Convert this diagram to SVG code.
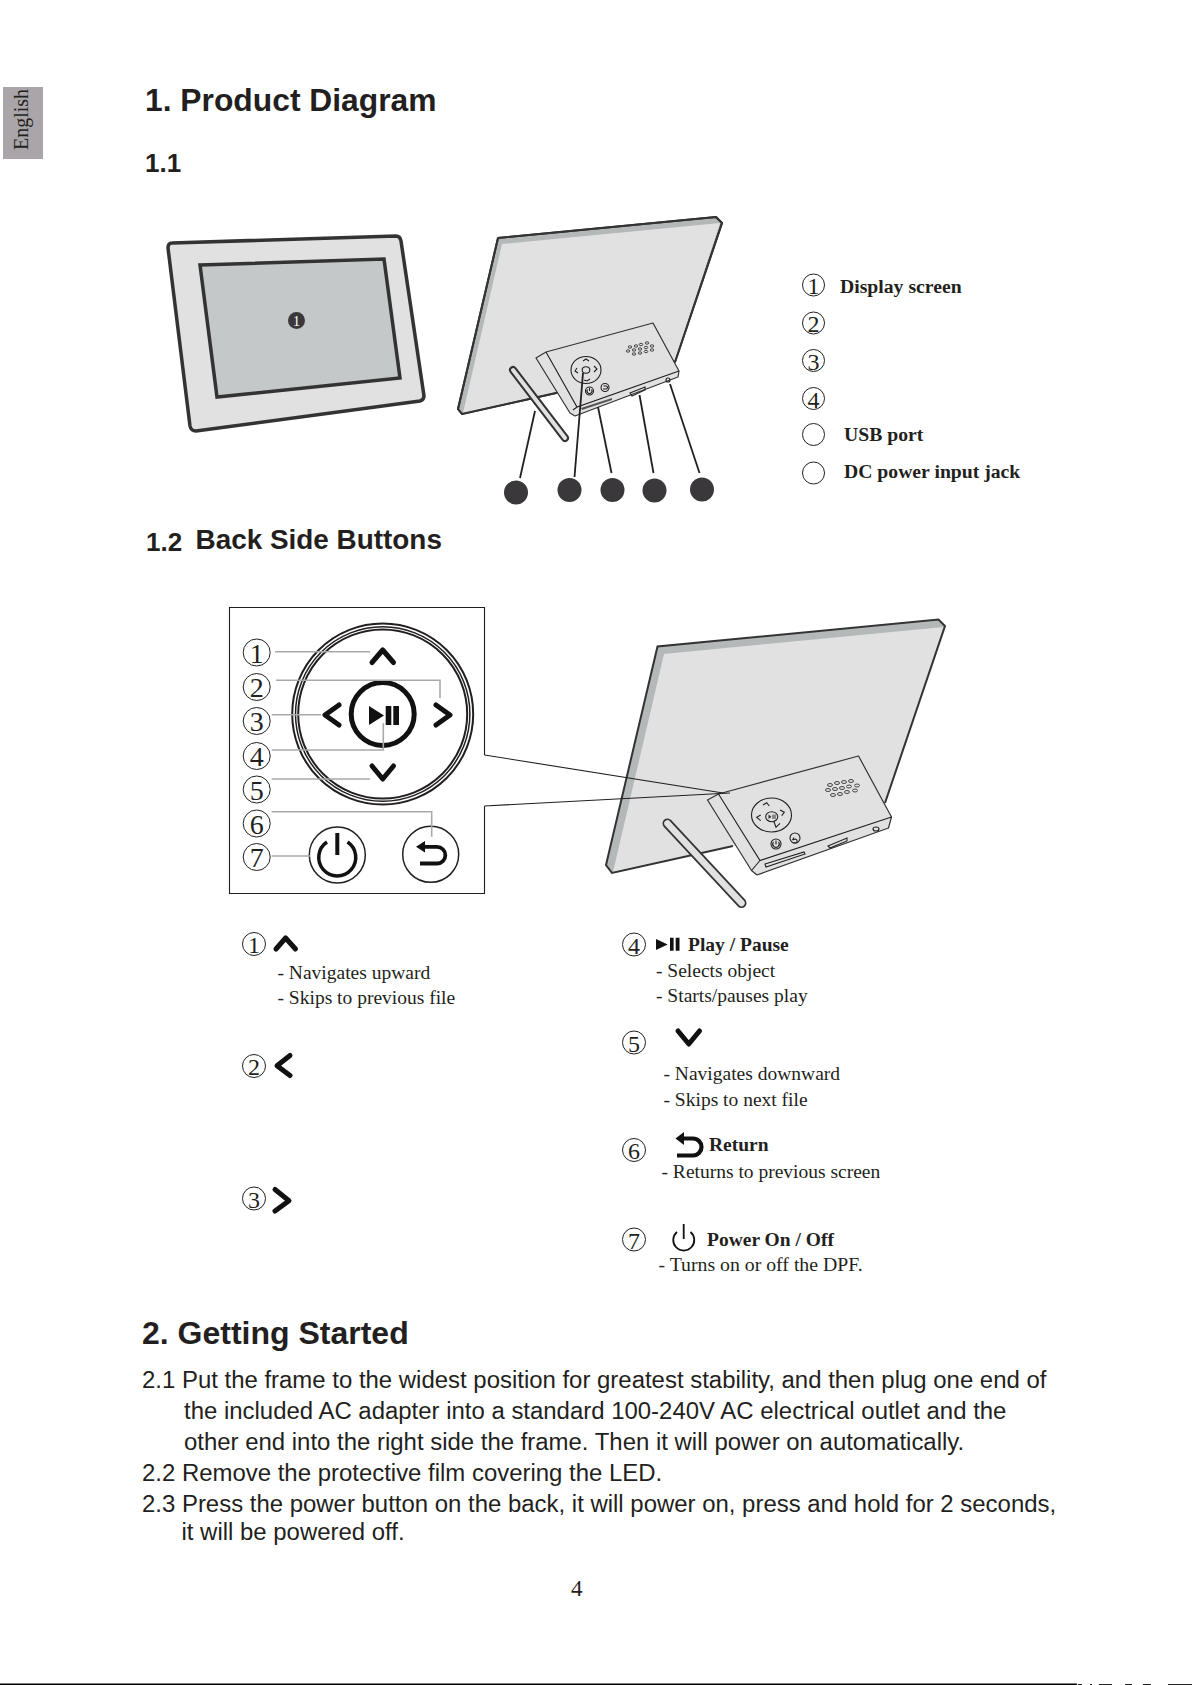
<svg xmlns="http://www.w3.org/2000/svg" width="1192" height="1685" viewBox="0 0 1192 1685">
<style>
text{fill:#231f20}
.h{font-family:"Liberation Sans",Arial,sans-serif;font-weight:700}
.b{font-family:"Liberation Sans",Arial,sans-serif;font-size:23.95px}
.s{font-family:"Liberation Serif","Times New Roman",serif;font-size:19.5px}
.sb{font-family:"Liberation Serif","Times New Roman",serif;font-size:19.5px;font-weight:700}
.n{font-family:"Liberation Serif","Times New Roman",serif;font-size:24px;text-anchor:middle}
.c{fill:none;stroke:#231f20;stroke-width:1}
.g{fill:none;stroke:#a7a9ac;stroke-width:1.6}
.l{fill:none;stroke:#231f20;stroke-width:1.8}
.t{fill:none;stroke:#231f20;stroke-width:1.1}
.ch{fill:none;stroke:#111;stroke-width:5;stroke-linejoin:round;stroke-linecap:round}
.d{fill:#3a383b}
.m{fill:#e1e1e1;stroke:#333;stroke-width:1.2;stroke-linejoin:round}
</style>
<rect width="1192" height="1685" fill="#fff"/>
<g id="tab"><rect x="3" y="87" width="40" height="72" fill="#a9a5a8"/><text transform="translate(28 150) rotate(-90)" class="s" style="font-size:20px">English</text></g>
<g id="headings">
<text x="145" y="111" class="h" font-size="31.800">1. Product Diagram</text>
<text x="145" y="172" class="h" font-size="26">1.1</text>
<text x="146" y="551" class="h" font-size="26">1.2</text>
<text x="195.500" y="549" class="h" font-size="27.900">Back Side Buttons</text>
<text x="142" y="1344" class="h" font-size="32">2. Getting Started</text>
</g>
<g id="front-frame">
<path d="M172 243 L396 236 Q400 236 401 241 L424 396 Q424 400 420 401 L196 431 Q191 431 190 426 L168 248 Q168 243 172 243Z" fill="#e1e1e1" stroke="#333" stroke-width="3.500"/>
<path d="M200 265 L384 259 L400 378 L217 397Z" fill="#c5c8c8" stroke="#333" stroke-width="3.500"/>
<circle cx="296.500" cy="320.500" r="8.500" class="d"/>
<text x="296.500" y="326" text-anchor="middle" font-family="Liberation Serif" font-size="14" style="fill:#fff">1</text>
</g>
<g id="back-frame-small">
<path d="M498 238 L716 217 L722 223 L675 362 L556 393 L462 414 L458 409Z" fill="#b5b8b9" stroke="#333" stroke-width="2" stroke-linejoin="round"/>
<path d="M502 244 L720 223 L675 360 L556 392 L463 413Z" fill="#e1e1e1"/>
<path d="M498 238 L716 217 L722 223 L675 362 M556 393 L462 414 L458 409 L498 238" fill="none" stroke="#333" stroke-width="2"/>
<line x1="513" y1="370" x2="565" y2="438" stroke="#333" stroke-width="8" stroke-linecap="round"/>
<line x1="513" y1="370" x2="565" y2="438" stroke="#e1e1e1" stroke-width="4" stroke-linecap="round"/>
<path class="m" d="M536 358 L546 352 L653 323 L679 371 L678 377 L575 416 L570 413Z"/>
<path class="t" d="M546 352 L577 407 L679 371 M573 410 L577 407"/>
<ellipse cx="586" cy="370" rx="15" ry="13.500" class="t"/>
<ellipse cx="586" cy="370" rx="3.800" ry="3.200" class="t"/>
<path class="t" d="M583 361 L586 359 L589 361 M577 368 L575 371 L578 373 M594 366 L597 369 L594 372 M584 380 L587 381 L590 379"/>
<circle cx="589.500" cy="391" r="4" class="t"/><circle cx="605" cy="387.500" r="4" class="t"/>
<path class="t" d="M589.500 388 V391 M587.500 389.500 A2.500 2.500 0 1 0 591.500 389.500 M603 389 H606 A1.500 1.500 0 0 0 606 386 H603.500"/>
<path d="M581 408 L612 398 L612 400 L582 410Z" fill="#555"/>
<path class="t" d="M630 393 L645 387 L645 390 L632 396Z"/>
<circle cx="668" cy="380" r="2" class="t"/>
<g fill="none" stroke="#444" stroke-width="1"><ellipse cx="630" cy="347" rx="1.800" ry="1.200"/><ellipse cx="636" cy="346" rx="1.800" ry="1.200"/><ellipse cx="641" cy="344.500" rx="1.800" ry="1.200"/><ellipse cx="647" cy="343" rx="1.800" ry="1.200"/>
<ellipse cx="628" cy="351" rx="1.800" ry="1.200"/><ellipse cx="634" cy="350" rx="1.800" ry="1.200"/><ellipse cx="640" cy="349" rx="1.800" ry="1.200"/><ellipse cx="646" cy="347.500" rx="1.800" ry="1.200"/><ellipse cx="652" cy="346" rx="1.800" ry="1.200"/>
<ellipse cx="634" cy="354" rx="1.800" ry="1.200"/><ellipse cx="640" cy="353" rx="1.800" ry="1.200"/><ellipse cx="646" cy="351.500" rx="1.800" ry="1.200"/><ellipse cx="652" cy="350" rx="1.800" ry="1.200"/></g>
</g>
<g id="connectors-small">
<line class="l" x1="535" y1="411" x2="520" y2="478"/>
<line class="l" x1="583" y1="373" x2="574.500" y2="477"/>
<line class="l" x1="598" y1="407" x2="611.500" y2="473"/>
<line class="l" x1="639.500" y1="395" x2="653.500" y2="473"/>
<line class="l" x1="670" y1="384" x2="699.500" y2="473"/>
</g>
<g id="callouts" class="d">
<circle cx="516" cy="492.500" r="12"/><circle cx="569.500" cy="490" r="12"/><circle cx="612.500" cy="490" r="12"/><circle cx="654.500" cy="490.500" r="12"/><circle cx="702" cy="489.500" r="12"/>
</g>
<g id="legend">
<circle class="c" cx="813.500" cy="285" r="11"/><text class="n" x="813.500" y="294">1</text>
<circle class="c" cx="813.500" cy="323" r="11"/><text class="n" x="813.500" y="332">2</text>
<circle class="c" cx="813.500" cy="360.500" r="11"/><text class="n" x="813.500" y="369.500">3</text>
<circle class="c" cx="813.500" cy="398.500" r="11"/><text class="n" x="813.500" y="407.500">4</text>
<circle class="c" cx="813.500" cy="434.500" r="11"/>
<circle class="c" cx="813.500" cy="473" r="11"/>
<text class="sb" style="font-size:19.700px" x="840" y="293">Display screen</text>
<text class="sb" style="font-size:19.700px" x="844" y="441">USB port</text>
<text class="sb" style="font-size:19.700px" x="844" y="478">DC power input jack</text>
</g>
<g id="button-panel">
<path class="t" d="M484.500 755 V607.500 H229.500 V893.500 H484.500 V806"/>
<circle cx="382.700" cy="714" r="90.500" class="t" style="stroke-width:2"/>
<circle cx="382.700" cy="714" r="87.200" class="t" style="stroke-width:1.500"/>
<circle cx="382.700" cy="714" r="84.500" class="t" style="stroke-width:2"/>
<circle cx="382.700" cy="714" r="31.500" fill="none" stroke="#111" stroke-width="5"/>
<path d="M369 706 V725 L384 715.500Z" fill="#111"/>
<path d="M385.700 706 H391.300 V725 H385.700Z M393.300 706 H399 V725 H393.300Z" fill="#111"/>
<path class="ch" d="M372 662.500 L382.700 650 L393.500 662.500"/>
<path class="ch" d="M436 705 L450 715 L436 725"/>
<path class="ch" d="M339 705 L325 715 L339 725"/>
<path class="ch" d="M372 766 L382.700 779 L393.500 766"/>
<circle cx="337.300" cy="855" r="28" class="t" style="stroke-width:1.500"/>
<path d="M327 842 A18.500 18.500 0 1 0 347.500 842" fill="none" stroke="#111" stroke-width="3.500"/>
<line x1="337.300" y1="833" x2="337.300" y2="855" stroke="#111" stroke-width="4"/>
<circle cx="430.700" cy="854.300" r="28" class="t" style="stroke-width:1.500"/>
<path d="M420 863.500 H437 A8.300 8.300 0 0 0 437 846.800 H422" fill="none" stroke="#111" stroke-width="3.800"/>
<path d="M416 846.800 L425 841 V852.500Z" fill="#111"/>
</g>
<g id="panel-numbers">
<circle class="c" cx="256.700" cy="652.500" r="13.500"/><text class="n" style="font-size:28px" x="256.700" y="662.500">1</text>
<circle class="c" cx="256.700" cy="687" r="13.500"/><text class="n" style="font-size:28px" x="256.700" y="697">2</text>
<circle class="c" cx="256.700" cy="721" r="13.500"/><text class="n" style="font-size:28px" x="256.700" y="731">3</text>
<circle class="c" cx="256.700" cy="756" r="13.500"/><text class="n" style="font-size:28px" x="256.700" y="766">4</text>
<circle class="c" cx="256.700" cy="789.500" r="13.500"/><text class="n" style="font-size:28px" x="256.700" y="799.500">5</text>
<circle class="c" cx="256.700" cy="823.500" r="13.500"/><text class="n" style="font-size:28px" x="256.700" y="833.500">6</text>
<circle class="c" cx="256.700" cy="857" r="13.500"/><text class="n" style="font-size:28px" x="256.700" y="867">7</text>
</g>
<g id="connectors-panel">
<path class="g" d="M275 651.700 H370"/>
<path class="g" d="M276 680.300 H440 V698.300"/>
<path class="g" d="M271.700 714.700 H321"/>
<path class="g" d="M271.700 750 H383.300 V723.300"/>
<path class="g" d="M271.700 779 H370"/>
<path class="g" d="M271.700 811.700 H431.700 V836.700"/>
<path class="g" d="M271.700 856 H310"/>
</g>
<g id="back-frame-large">
<path d="M657.500 646.500 L938.500 619.500 L945 626 L885 803 L733 846 L612 873 L606 865Z" fill="#b5b8b9"/>
<path d="M664 654 L943.500 627 L885 803 L733 846 L613 872Z" fill="#e1e1e1"/>
<path d="M733 846 L612 873 L606 865 L657.500 646.500 L938.500 619.500 L945 626 L885 803" fill="none" stroke="#333" stroke-width="2"/>
<line x1="667.500" y1="823.500" x2="741.500" y2="903" stroke="#333" stroke-width="10" stroke-linecap="round"/>
<line x1="667.500" y1="823.500" x2="741.500" y2="903" stroke="#e1e1e1" stroke-width="6.500" stroke-linecap="round"/>
<path class="m" d="M707.500 800 L718.500 794 L858.500 756 L891.500 817 L888.500 828 L757 875 L751.500 870.500Z"/>
<path class="t" d="M718.500 794 L760 860.500 L891.500 817 M751.500 870.500 L760 860.500"/>
<ellipse cx="771.500" cy="815" rx="20" ry="17" class="t"/>
<ellipse cx="771.700" cy="816.700" rx="6" ry="5" class="t"/>
<path d="M768.500 814.500 V819 L771.500 816.700Z M772.500 814.500 H773.500 V819 H772.500Z M774.500 814.500 H775.500 V819 H774.500Z" fill="#333"/>
<path class="t" d="M763 805 L766.700 802.700 L769.300 806 M760.700 815 L756.700 817.300 L760.700 820.700 M780 810 L784.300 812.300 L781.700 815.700 M774 821.700 L776 827.300 L780 823.300"/>
<circle cx="776" cy="844" r="5" class="t"/><circle cx="795" cy="838" r="5" class="t"/>
<path class="t" d="M776 840.500 V844.500 M773.500 842 A3.200 3.200 0 1 0 778.500 842 M792.500 840 L795.500 839 A2.200 2.200 0 0 1 796 843 L793 843 M792.500 840 L794 837.500"/>
<path class="t" d="M765 864 L804 852 L805 854 L766 867Z"/>
<path class="t" d="M828 846 L847 838 L847 841 L830 848Z"/>
<ellipse cx="876" cy="829" rx="3" ry="2" class="t"/>
<g fill="none" stroke="#444" stroke-width="1"><ellipse cx="830" cy="785" rx="2.500" ry="1.500"/><ellipse cx="837" cy="783" rx="2.500" ry="1.500"/><ellipse cx="844" cy="782" rx="2.500" ry="1.500"/><ellipse cx="851" cy="781" rx="2.500" ry="1.500"/>
<ellipse cx="828" cy="790" rx="2.500" ry="1.500"/><ellipse cx="835" cy="789" rx="2.500" ry="1.500"/><ellipse cx="842" cy="788" rx="2.500" ry="1.500"/><ellipse cx="849" cy="786.500" rx="2.500" ry="1.500"/><ellipse cx="857" cy="785.500" rx="2.500" ry="1.500"/>
<ellipse cx="833" cy="795" rx="2.500" ry="1.500"/><ellipse cx="840" cy="794" rx="2.500" ry="1.500"/><ellipse cx="847" cy="792" rx="2.500" ry="1.500"/><ellipse cx="855" cy="790.500" rx="2.500" ry="1.500"/></g>
</g>
<g id="connectors-zoom">
<line class="t" x1="484.500" y1="755" x2="723" y2="793"/>
<line class="t" x1="484.500" y1="806" x2="730" y2="793"/>
</g>
<g id="descriptions">
<circle class="c" cx="254" cy="944" r="11.500"/><text class="n" x="254" y="953">1</text>
<path class="ch" d="M276 949 L285.600 938 L295.500 949"/>
<text class="s" x="277.500" y="978.500">- Navigates upward</text>
<text class="s" x="277.500" y="1004">- Skips to previous file</text>
<circle class="c" cx="254" cy="1066" r="11.500"/><text class="n" x="254" y="1075">2</text>
<path class="ch" d="M290 1055.500 L277 1065.700 L290 1075.500"/>
<circle class="c" cx="254" cy="1198.500" r="11.500"/><text class="n" x="254" y="1207.500">3</text>
<path class="ch" d="M275 1189.500 L289 1200.800 L275 1211"/>
<circle class="c" cx="634" cy="944.500" r="11.500"/><text class="n" x="634" y="953.500">4</text>
<path d="M656 939 V950 L667.700 944.500Z M670 937.700 H673.600 V950.700 H670Z M675.700 937.700 H679.500 V950.700 H675.700Z" fill="#111"/>
<text class="sb" x="688" y="951">Play / Pause</text>
<text class="s" x="656" y="976.500">- Selects object</text>
<text class="s" x="656" y="1002">- Starts/pauses play</text>
<circle class="c" cx="634" cy="1042.500" r="11.500"/><text class="n" x="634" y="1051.500">5</text>
<path class="ch" d="M678 1031 L688.800 1044 L699.500 1031"/>
<text class="s" x="663.500" y="1080">- Navigates downward</text>
<text class="s" x="663.500" y="1105.500">- Skips to next file</text>
<circle class="c" cx="634" cy="1150" r="11.500"/><text class="n" x="634" y="1159">6</text>
<path d="M677 1155.500 H693 A8.500 8.500 0 0 0 693 1138.500 H682" fill="none" stroke="#111" stroke-width="4.200"/>
<path d="M675.500 1138.500 L684 1132 V1145Z" fill="#111"/>
<text class="sb" x="709" y="1151">Return</text>
<text class="s" x="661.500" y="1178">- Returns to previous screen</text>
<circle class="c" cx="634" cy="1239.500" r="11.500"/><text class="n" x="634" y="1248.500">7</text>
<path d="M677 1232 A10.500 10.500 0 1 0 690.500 1232" fill="none" stroke="#111" stroke-width="1.800"/>
<line x1="683.700" y1="1224" x2="683.700" y2="1239" stroke="#111" stroke-width="1.800"/>
<text class="sb" x="707" y="1246">Power On / Off</text>
<text class="s" style="font-size:19.800px" x="658.500" y="1271">- Turns on or off the DPF.</text>
</g>
<g id="body">
<text class="b" x="142" y="1387.500">2.1 Put the frame to the widest position for greatest stability, and then plug one end of</text>
<text class="b" x="184" y="1418.500">the included AC adapter into a standard 100-240V AC electrical outlet and the</text>
<text class="b" x="184" y="1449.500">other end into the right side the frame. Then it will power on automatically.</text>
<text class="b" x="142" y="1480.500">2.2 Remove the protective film covering the LED.</text>
<text class="b" x="142" y="1511.500">2.3 Press the power button on the back, it will power on, press and hold for 2 seconds,</text>
<text class="b" x="181.500" y="1540">it will be powered off.</text>
<text x="571" y="1596" font-family="Liberation Serif" font-size="23">4</text>
</g>
<g id="footer"><rect x="0" y="1683.500" width="1077" height="1.500" fill="#000"/>
<g fill="#222"><rect x="1078" y="1684" width="4" height="1"/><rect x="1090" y="1684" width="2" height="1"/><rect x="1099" y="1684" width="13" height="1"/><rect x="1125" y="1684" width="7" height="1"/><rect x="1143" y="1684" width="8" height="1"/><rect x="1168" y="1684" width="24" height="1"/></g></g>
</svg>
